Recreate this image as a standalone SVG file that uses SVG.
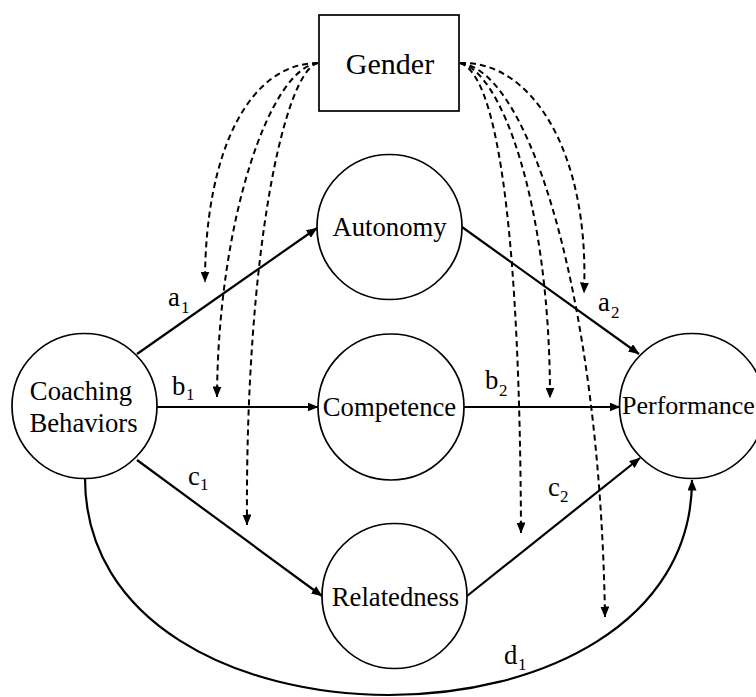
<svg xmlns="http://www.w3.org/2000/svg" width="756" height="697" viewBox="0 0 756 697">
<style>
.node{fill:#fff;stroke:#000;stroke-width:1.7}
.lbl{font-family:"Liberation Serif","Times New Roman",serif;font-size:26.7px;fill:#000}
.sub{font-size:17px}
.solid{fill:none;stroke:#000;stroke-width:2.2;marker-end:url(#ah)}
.dash{fill:none;stroke:#000;stroke-width:2;stroke-dasharray:6 4;marker-end:url(#ah)}
</style>
<defs>
<marker id="ah" markerUnits="userSpaceOnUse" markerWidth="11" markerHeight="9" refX="10.5" refY="4.5" orient="auto" viewBox="0 0 11 9">
<path d="M0,0 L11,4.5 L0,9 z" fill="#000"/>
</marker>
</defs>
<rect width="756" height="697" fill="#fff"/>
<g id="connectors">
<path class="solid" d="M137,354 L317,228"/>
<path class="solid" d="M157,407 L318,407"/>
<path class="solid" d="M137,460 L322,596"/>
<path class="solid" d="M462,227 L639,354"/>
<path class="solid" d="M464,407 L620,407"/>
<path class="solid" d="M467,596 L640,458"/>
<path class="solid" d="M85,478 C85,767 692,767 692,480"/>
<path class="dash" d="M318,63 C250,63 205,150 205,282"/>
<path class="dash" d="M318,63 C270,68 218,220 217,397"/>
<path class="dash" d="M318,63 C285,70 245,250 247,525"/>
<path class="dash" d="M460,63 C500,75 520,250 521,533"/>
<path class="dash" d="M460,63 C500,70 550,200 550,398"/>
<path class="dash" d="M460,63 C530,70 600,300 605,617"/>
<path class="dash" d="M460,63 C530,60 590,150 584,293"/>
<g class="lbl">
<text x="168" y="306">a<tspan class="sub" x="181" y="313">1</tspan></text>
<text x="172" y="395">b<tspan class="sub" x="186" y="400">1</tspan></text>
<text x="188" y="485">c<tspan class="sub" x="200" y="490">1</tspan></text>
<text x="598" y="311">a<tspan class="sub" x="611" y="318">2</tspan></text>
<text x="485" y="389">b<tspan class="sub" x="499" y="396">2</tspan></text>
<text x="548" y="496">c<tspan class="sub" x="560" y="502">2</tspan></text>
<text x="504" y="664">d<tspan class="sub" x="518" y="670">1</tspan></text>
</g>
</g>
<g id="gender">
<rect class="node" x="319" y="15" width="140" height="96"/>
<text class="lbl" x="390" y="74" text-anchor="middle" style="font-size:30px">Gender</text>
</g>
<g id="autonomy">
<circle class="node" cx="389.5" cy="227" r="72.5"/>
<text class="lbl" x="389.5" y="236" text-anchor="middle">Autonomy</text>
</g>
<g id="competence">
<circle class="node" cx="391" cy="407" r="73"/>
<text class="lbl" x="389.5" y="416" text-anchor="middle">Competence</text>
</g>
<g id="relatedness">
<circle class="node" cx="394.5" cy="596" r="72.5"/>
<text class="lbl" x="395.5" y="606" text-anchor="middle">Relatedness</text>
</g>
<g id="coaching">
<circle class="node" cx="84.5" cy="406" r="72.5"/>
<text class="lbl" x="81" y="400" text-anchor="middle">Coaching</text>
<text class="lbl" x="83.5" y="432" text-anchor="middle">Behaviors</text>
</g>
<g id="performance">
<circle class="node" cx="692" cy="406" r="72.5"/>
<text class="lbl" x="622" y="414" style="font-size:26px">Performance</text>
</g>
</svg>
